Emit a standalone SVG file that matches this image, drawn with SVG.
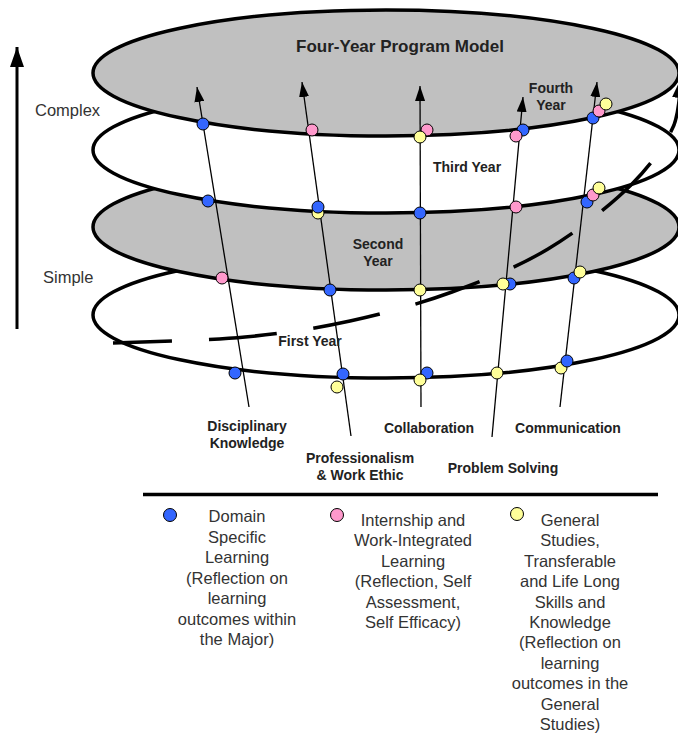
<svg xmlns="http://www.w3.org/2000/svg" width="678" height="734" viewBox="0 0 678 734">
<defs>
<style>
.ring{stroke:#000;stroke-width:3.5}
.gr{fill:#c0c0c0}
.wh{fill:#fff}
.ax{stroke:#000;stroke-width:1.3;fill:none;marker-end:url(#ah)}
.dot{stroke:#000;stroke-width:1}
.b{fill:#3366ff}
.p{fill:#ff99cc}
.y{fill:#ffff99}
.lb{font-family:"Liberation Sans",Arial,sans-serif;font-weight:bold;font-size:14px;fill:#222;text-anchor:middle}
.tx{font-family:"Liberation Sans",Arial,sans-serif;font-size:16.5px;fill:#333}
.lg{text-anchor:middle}
</style>
<marker id="ah" markerUnits="userSpaceOnUse" markerWidth="15" markerHeight="10" refX="15" refY="5" orient="auto" viewBox="0 0 15 10"><path d="M0,0 L15,5 L0,10 z" fill="#000"/></marker>
<marker id="ahb" markerUnits="userSpaceOnUse" markerWidth="20" markerHeight="14" refX="20" refY="7" orient="auto" viewBox="0 0 20 14"><path d="M0,0 L20,7 L0,14 z" fill="#000"/></marker>
</defs>

<g id="rings">
<ellipse id="first-year" class="ring wh" cx="386" cy="315" rx="293" ry="63"/>
<ellipse id="second-year" class="ring gr" cx="386" cy="227" rx="293" ry="63"/>
<ellipse id="third-year" class="ring wh" cx="386" cy="150" rx="293" ry="63"/>
<ellipse id="fourth-year" class="ring gr" cx="386" cy="73" rx="293" ry="63"/>
</g>

<g id="connectors">
<path id="spiral-back" d="M113,343 C135,342 205.5,340.7 245,337 C284.5,333.3 315.5,328.5 350,321 C384.5,313.5 419,304 452,292 C485,280 518,267 548,249 C578,231 611.3,204.7 632,184 C652.7,163.3 666,143 674,125 C680,108 680,88 681,78" fill="none" stroke="#000" stroke-width="3.5" stroke-dasharray="68 37" stroke-dashoffset="9" marker-end="url(#ahb)"/>
<line id="axis" x1="17" y1="329" x2="17" y2="47" stroke="#000" stroke-width="3" marker-end="url(#ahb)"/>
<line id="c-disciplinary" class="ax" x1="249" y1="407" x2="197" y2="87"/>
<line id="c-professionalism" class="ax" x1="351" y1="436" x2="302" y2="82"/>
<line id="c-collaboration" class="ax" x1="421" y1="407" x2="420" y2="86"/>
<line id="c-problem" class="ax" x1="492" y1="437" x2="523" y2="97"/>
<line id="c-communication" class="ax" x1="560" y1="407" x2="597" y2="82"/>
</g>

<g id="dots">
<circle class="dot b" cx="203" cy="124" r="6"/>
<circle class="dot b" cx="208" cy="201" r="6"/>
<circle class="dot p" cx="222" cy="278" r="6"/>
<circle class="dot b" cx="235" cy="373" r="6"/>

<circle class="dot p" cx="312" cy="130" r="6"/>
<circle class="dot y" cx="318" cy="213" r="6"/>
<circle class="dot b" cx="318" cy="207" r="6"/>
<circle class="dot b" cx="330" cy="290" r="6"/>
<circle class="dot y" cx="337" cy="387" r="6"/>
<circle class="dot b" cx="343" cy="374" r="6"/>

<circle class="dot p" cx="427" cy="130" r="6"/>
<circle class="dot y" cx="420" cy="137" r="6"/>
<circle class="dot b" cx="420" cy="213" r="6"/>
<circle class="dot y" cx="420" cy="290" r="6"/>
<circle class="dot b" cx="427" cy="373" r="6"/>
<circle class="dot y" cx="420" cy="380" r="6"/>

<circle class="dot b" cx="523" cy="130" r="6"/>
<circle class="dot p" cx="516" cy="136" r="6"/>
<circle class="dot p" cx="516" cy="207" r="6"/>
<circle class="dot b" cx="510" cy="284" r="6"/>
<circle class="dot y" cx="503" cy="284" r="6"/>
<circle class="dot y" cx="497" cy="373" r="6"/>

<circle class="dot b" cx="593" cy="118" r="6"/>
<circle class="dot p" cx="599" cy="111" r="6"/>
<circle class="dot y" cx="606" cy="104" r="6"/>
<circle class="dot b" cx="587" cy="202" r="6"/>
<circle class="dot p" cx="593" cy="195" r="6"/>
<circle class="dot y" cx="599" cy="188" r="6"/>
<circle class="dot b" cx="574" cy="278" r="6"/>
<circle class="dot y" cx="580" cy="272" r="6"/>
<circle class="dot y" cx="561" cy="368" r="6"/>
<circle class="dot b" cx="567" cy="361" r="6"/>
</g>

<g id="labels">
<text class="lb" x="400" y="52" style="font-size:17px">Four-Year Program Model</text>
<text class="lb" x="551" y="93">Fourth</text>
<text class="lb" x="551" y="110">Year</text>
<text class="lb" x="467" y="172">Third Year</text>
<text class="lb" x="378" y="249">Second</text>
<text class="lb" x="378" y="266">Year</text>
<text class="lb" x="310" y="346">First Year</text>
<text class="tx" x="35" y="116">Complex</text>
<text class="tx" x="43" y="283">Simple</text>
<text class="lb" x="247" y="431">Disciplinary</text>
<text class="lb" x="247" y="448">Knowledge</text>
<text class="lb" x="360" y="463">Professionalism</text>
<text class="lb" x="360" y="480">&amp; Work Ethic</text>
<text class="lb" x="429" y="433">Collaboration</text>
<text class="lb" x="503" y="473">Problem Solving</text>
<text class="lb" x="568" y="433">Communication</text>
</g>

<g id="legend">
<line x1="143" y1="494.5" x2="658" y2="494.5" stroke="#000" stroke-width="3.5"/>
<g id="legend-domain">
<circle class="dot b" cx="170" cy="515" r="6.5"/>
<text class="tx lg" x="237" y="522"><tspan x="237">Domain</tspan><tspan x="237" dy="20.5">Specific</tspan><tspan x="237" dy="20.5">Learning</tspan><tspan x="237" dy="20.5">(Reflection on</tspan><tspan x="237" dy="20.5">learning</tspan><tspan x="237" dy="20.5">outcomes within</tspan><tspan x="237" dy="20.5">the Major)</tspan></text>
</g>
<g id="legend-internship">
<circle class="dot p" cx="337" cy="515" r="6.5"/>
<text class="tx lg" x="413" y="526"><tspan x="413">Internship and</tspan><tspan x="413" dy="20.4">Work-Integrated</tspan><tspan x="413" dy="20.4">Learning</tspan><tspan x="413" dy="20.4">(Reflection, Self</tspan><tspan x="413" dy="20.4">Assessment,</tspan><tspan x="413" dy="20.4">Self Efficacy)</tspan></text>
</g>
<g id="legend-general">
<circle class="dot y" cx="517" cy="514" r="6.5"/>
<text class="tx lg" x="570" y="526"><tspan x="570">General</tspan><tspan x="570" dy="20.4">Studies,</tspan><tspan x="570" dy="20.4">Transferable</tspan><tspan x="570" dy="20.4">and Life Long</tspan><tspan x="570" dy="20.4">Skills and</tspan><tspan x="570" dy="20.4">Knowledge</tspan><tspan x="570" dy="20.4">(Reflection on</tspan><tspan x="570" dy="20.4">learning</tspan><tspan x="570" dy="20.4">outcomes in the</tspan><tspan x="570" dy="20.4">General</tspan><tspan x="570" dy="20.4">Studies)</tspan></text>
</g>
</g>
</svg>
